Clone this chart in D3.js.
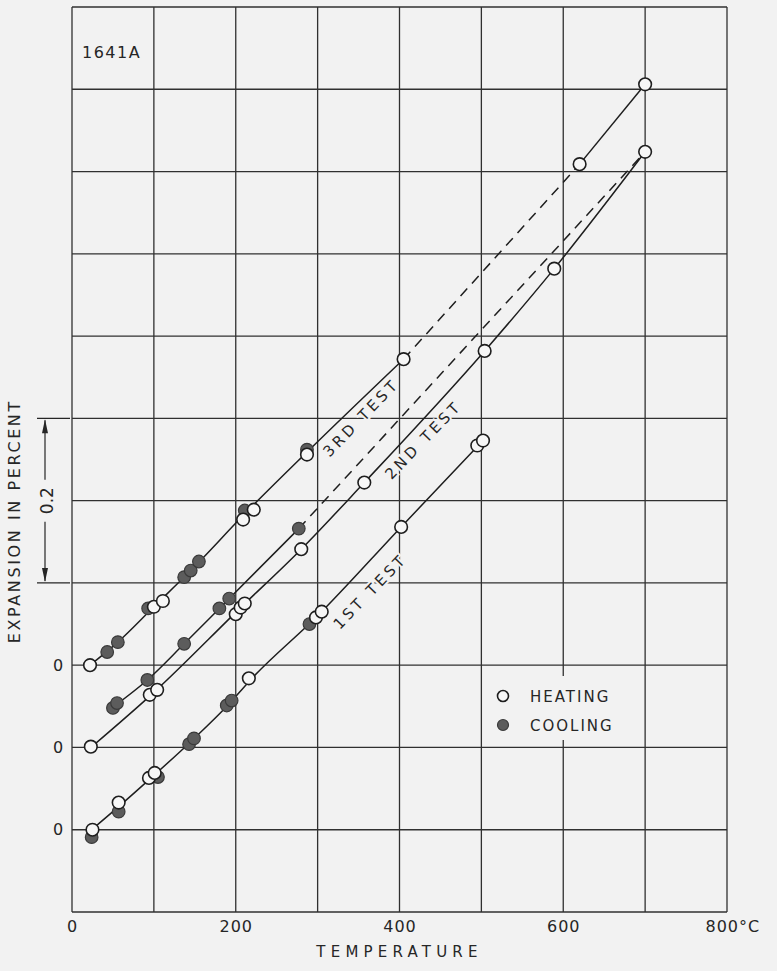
<!DOCTYPE html>
<html>
<head>
<meta charset="utf-8">
<script src="https://cdn.jsdelivr.net/npm/d3@7"></script>
<style>
  body { margin: 0; background: #f2f2f2; }
  svg { display: block; }
  text { font-family: 'DejaVu Sans', sans-serif; fill: #262626; }
</style>
</head>
<body>
<div id="chart"></div>
<script>
// temperature (deg C) and expansion (percent), each test from its own zero
const test1HeatT = [25, 57, 94, 101, 216, 298, 305, 402, 495, 502];
const test1HeatV = [0, 0.033, 0.063, 0.069, 0.184, 0.258, 0.265, 0.368, 0.467, 0.473];
const test1CoolT = [24, 57, 105, 143, 149, 189, 195, 290];
const test1CoolV = [-0.009, 0.022, 0.064, 0.104, 0.111, 0.151, 0.157, 0.250];

const test2HeatT = [23, 95, 104, 200, 206, 211, 280, 357, 504, 589, 700];
const test2HeatV = [0.001, 0.064, 0.070, 0.162, 0.170, 0.175, 0.241, 0.322, 0.482, 0.582, 0.724];
const test2CoolT = [50, 55, 92, 137, 180, 192, 277];
const test2CoolV = [0.048, 0.054, 0.082, 0.126, 0.169, 0.181, 0.266];

const test3HeatT = [22, 100, 111, 209, 222, 287, 405, 620, 700];
const test3HeatV = [0, 0.071, 0.078, 0.177, 0.189, 0.256, 0.372, 0.609, 0.706];
const test3CoolT = [43, 56, 93, 137, 145, 155, 211, 287];
const test3CoolV = [0.016, 0.028, 0.069, 0.107, 0.115, 0.126, 0.188, 0.262];

// drawn curves (solid / dashed pieces)
const curve1T = [24, 57, 100, 145, 192, 216, 300, 402, 500];
const curve1V = [0, 0.028, 0.066, 0.107, 0.153, 0.180, 0.260, 0.368, 0.471];
const curve2HeatT = [23, 100, 206, 280, 357, 504, 589, 700];
const curve2HeatV = [0, 0.067, 0.170, 0.241, 0.322, 0.482, 0.582, 0.724];
const curve2CoolT = [50, 92, 137, 186, 277];
const curve2CoolV = [0.049, 0.082, 0.126, 0.175, 0.266];
const curve2DashT = [277, 700];
const curve2DashV = [0.266, 0.724];
const curve3T = [22, 56, 100, 145, 211, 287, 405];
const curve3V = [0, 0.028, 0.071, 0.115, 0.184, 0.259, 0.372];
const curve3DashT = [405, 620];
const curve3DashV = [0.372, 0.609];
const curve3TopT = [620, 700];
const curve3TopV = [0.609, 0.706];

// each test is shifted up by one grid square
const testOffsets = [0, 0.1, 0.2];
const testNames = ['1ST TEST', '2ND TEST', '3RD TEST'];
const labelT = [364, 429, 353];
const labelV = [0.290, 0.374, 0.301];

const xTicks = [0, 200, 400, 600, 800];

const width = 777;
const height = 971;
const bg = '#f2f2f2';
const ink = '#262626';

const svg = d3.select('#chart').append('svg')
  .attr('width', width)
  .attr('height', height);

const x = d3.scaleLinear().domain([0, 800]).range([72, 727]);
const y = d3.scaleLinear().domain([-0.1, 1.0]).range([912, 7]);

const zip = (ts, vs, off) => ts.map((t, i) => ({ t: t, v: vs[i] + off }));

// grid
const grid = svg.append('g').attr('stroke', '#303030').attr('stroke-width', 1.3);
grid.selectAll('line.v')
  .data(d3.range(0, 801, 100))
  .join('line')
  .attr('x1', d => x(d)).attr('x2', d => x(d))
  .attr('y1', y(1.0)).attr('y2', y(-0.1));
grid.selectAll('line.h')
  .data(d3.range(-1, 11).map(i => i / 10))
  .join('line')
  .attr('x1', x(0)).attr('x2', x(800))
  .attr('y1', d => y(d)).attr('y2', d => y(d));

// legend box covers the grid like on the plate
svg.append('rect')
  .attr('x', 490).attr('y', 676).attr('width', 134).attr('height', 64)
  .attr('fill', bg);

// x axis labels
const xAxis = svg.append('g')
  .attr('transform', `translate(0, ${y(-0.1)})`)
  .call(d3.axisBottom(x).tickValues(xTicks).tickSize(0).tickPadding(9)
    .tickFormat(d => d === 800 ? '800°C' : d));
xAxis.select('.domain').remove();
xAxis.selectAll('text')
  .style('font-family', "'DejaVu Sans', sans-serif")
  .style('font-size', '16px')
  .attr('fill', ink)
  .attr('letter-spacing', 1);
xAxis.selectAll('.tick').filter(d => d === 800).select('text')
  .attr('text-anchor', 'start').attr('dx', -22);

svg.append('text')
  .attr('x', x(400)).attr('y', 957)
  .attr('text-anchor', 'middle')
  .style('font-size', '15px')
  .attr('letter-spacing', 5.2)
  .text('TEMPERATURE');

// zero labels for the three tests
svg.selectAll('text.zero')
  .data(testOffsets)
  .join('text')
  .attr('x', 58).attr('y', d => y(d))
  .attr('dy', '0.36em')
  .attr('text-anchor', 'middle')
  .style('font-size', '16px')
  .text('0');

svg.append('text')
  .attr('transform', `translate(20, ${y(0.375)}) rotate(-90)`)
  .attr('text-anchor', 'middle')
  .style('font-size', '16px')
  .attr('letter-spacing', 2.6)
  .text('EXPANSION IN PERCENT');

// 0.2 scale bar
const bar = svg.append('g').attr('stroke', ink).attr('stroke-width', 1.2);
[0.3, 0.5].forEach(v => {
  bar.append('line').attr('x1', 37).attr('x2', 70).attr('y1', y(v)).attr('y2', y(v));
});
bar.append('line').attr('x1', 45).attr('x2', 45).attr('y1', y(0.5) + 2).attr('y2', y(0.4) - 21);
bar.append('line').attr('x1', 45).attr('x2', 45).attr('y1', y(0.4) + 21).attr('y2', y(0.3) - 2);
svg.append('path')
  .attr('d', `M45,${y(0.5) + 1}l-3,14l6,0z M45,${y(0.3) - 1}l-3,-14l6,0z`)
  .attr('fill', ink);
svg.append('text')
  .attr('transform', `translate(47, ${y(0.4)}) rotate(-90)`)
  .attr('text-anchor', 'middle')
  .attr('dy', '0.36em')
  .style('font-size', '17px')
  .text('0.2');

svg.append('text')
  .attr('x', 82).attr('y', 58)
  .style('font-size', '16px')
  .attr('letter-spacing', 1.5)
  .text('1641A');

// curves
const line = d3.line().x(d => x(d.t)).y(d => y(d.v)).curve(d3.curveMonotoneX);
const curves = [
  { pts: zip(curve1T, curve1V, testOffsets[0]), dash: null },
  { pts: zip(curve2HeatT, curve2HeatV, testOffsets[1]), dash: null },
  { pts: zip(curve2CoolT, curve2CoolV, testOffsets[1]), dash: null },
  { pts: zip(curve2DashT, curve2DashV, testOffsets[1]), dash: '10,7' },
  { pts: zip(curve3T, curve3V, testOffsets[2]), dash: null },
  { pts: zip(curve3DashT, curve3DashV, testOffsets[2]), dash: '10,7' },
  { pts: zip(curve3TopT, curve3TopV, testOffsets[2]), dash: null }
];
svg.append('g').selectAll('path')
  .data(curves)
  .join('path')
  .attr('d', d => line(d.pts))
  .attr('fill', 'none')
  .attr('stroke', '#1e1e1e')
  .attr('stroke-width', 1.5)
  .attr('stroke-dasharray', d => d.dash);

// test labels along the curves, with a halo that breaks the grid
svg.selectAll('text.test')
  .data(testNames)
  .join('text')
  .attr('transform', (d, i) => `translate(${x(labelT[i])}, ${y(labelV[i] + testOffsets[i])}) rotate(-46)`)
  .attr('text-anchor', 'middle')
  .attr('dy', '0.36em')
  .style('font-size', '15px')
  .attr('letter-spacing', 3.5)
  .attr('stroke', bg)
  .attr('stroke-width', 4)
  .attr('paint-order', 'stroke')
  .text(d => d);

// points
const cooling = [].concat(
  zip(test1CoolT, test1CoolV, testOffsets[0]),
  zip(test2CoolT, test2CoolV, testOffsets[1]),
  zip(test3CoolT, test3CoolV, testOffsets[2])
);
const heating = [].concat(
  zip(test1HeatT, test1HeatV, testOffsets[0]),
  zip(test2HeatT, test2HeatV, testOffsets[1]),
  zip(test3HeatT, test3HeatV, testOffsets[2])
);
svg.append('g').selectAll('circle')
  .data(cooling)
  .join('circle')
  .attr('cx', d => x(d.t)).attr('cy', d => y(d.v))
  .attr('r', 6.3)
  .attr('fill', '#5c5c5c')
  .attr('stroke', '#3a3a3a')
  .attr('stroke-width', 1.2);
svg.append('g').selectAll('circle')
  .data(heating)
  .join('circle')
  .attr('cx', d => x(d.t)).attr('cy', d => y(d.v))
  .attr('r', 6.3)
  .attr('fill', '#f7f7f7')
  .attr('stroke', '#1e1e1e')
  .attr('stroke-width', 1.6);

// legend
const legend = svg.append('g');
legend.append('circle').attr('cx', 503).attr('cy', 696).attr('r', 5.5)
  .attr('fill', '#f7f7f7').attr('stroke', '#1e1e1e').attr('stroke-width', 1.6);
legend.append('circle').attr('cx', 503).attr('cy', 725).attr('r', 5.5)
  .attr('fill', '#5c5c5c').attr('stroke', '#3a3a3a').attr('stroke-width', 1.2);
legend.append('text').attr('x', 530).attr('y', 702)
  .style('font-size', '15px').attr('letter-spacing', 2).text('HEATING');
legend.append('text').attr('x', 530).attr('y', 731)
  .style('font-size', '15px').attr('letter-spacing', 2).text('COOLING');
</script>
</body>
</html>
